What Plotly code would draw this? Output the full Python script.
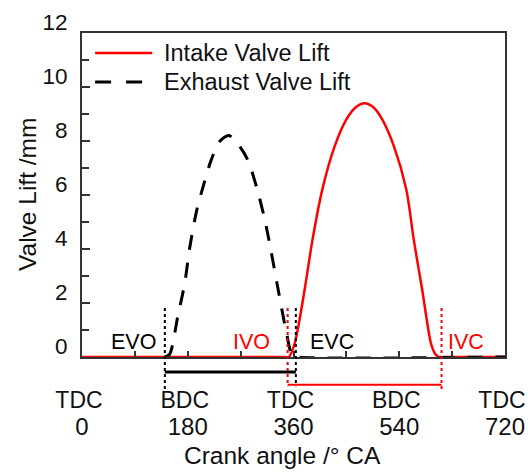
import plotly.graph_objects as go

# ---- data ----
intake_angle = [0, 345, 352, 362, 379, 392, 409, 430, 450, 466, 481, 496, 511, 531, 552, 565, 579, 594, 601, 607, 615, 720]
intake_lift = [0, 0, 0, 0.5, 2.5, 4.3, 6.2, 7.8, 8.8, 9.25, 9.4, 9.25, 8.8, 7.8, 6.2, 4.3, 2.5, 0.5, 0.12, 0, 0, 0]

exhaust_angle = [141, 149, 163, 175, 183, 195, 206, 220, 235, 250, 265, 282, 297, 311, 322, 333, 348, 358, 366, 720]
exhaust_lift = [0, 0.1, 1.5, 2.75, 4.0, 5.4, 6.3, 7.3, 8.0, 8.2, 7.9, 7.3, 6.3, 5.1, 3.9, 2.6, 0.9, 0.05, 0, 0]

series_names = ["Intake Valve Lift", "Exhaust Valve Lift"]

# valve events (deg CA)
EVO, IVO, EVC, IVC = 141, 350, 364, 612
event_names = ["EVO", "IVO", "EVC", "IVC"]
event_label_angle = [88, 288, 426, 653]
event_colors = ["black", "#ff0000", "black", "#ff0000"]

x_tickvals = [0, 180, 360, 540, 720]
x_ticknums = ["0", "180", "360", "540", "720"]
x_tickdc = ["TDC", "BDC", "TDC", "BDC", "TDC"]
y_tickvals = [0, 2, 4, 6, 8, 10, 12]

FONT = "Liberation Sans, Arial, sans-serif"
FS_X = 24
FS_DC = 23
FS_Y = 22.5
FS_EV = 21.5
FS_T = 24.5
FS_L = 23.5
RED = "#ff0000"
TXT = "#111"

fig = go.Figure()
fig.add_trace(go.Scatter(
    x=intake_angle, y=intake_lift, mode="lines", name=series_names[0],
    line=dict(color=RED, width=2.5, shape="spline", smoothing=0.8),
))
fig.add_trace(go.Scatter(
    x=exhaust_angle, y=exhaust_lift, mode="lines", name=series_names[1],
    line=dict(color="black", width=3, dash="15px,13px", shape="spline", smoothing=0.8),
))
# empty trace that carries the TDC/BDC label axis
fig.add_trace(go.Scatter(x=x_tickvals, y=[None] * len(x_tickvals), xaxis="x2", mode="lines",
                         showlegend=False, hoverinfo="skip"))

# dotted event markers (extend below the axis)
def vdot(x, y0, y1, color):
    fig.add_shape(type="line", xref="x", yref="paper", x0=x, x1=x, y0=y0, y1=y1,
                  line=dict(color=color, width=2, dash="dot"))

vdot(EVO, 0.151, -0.105, "black")
vdot(EVC, 0.151, -0.09, "black")
vdot(IVO, 0.151, -0.09, RED)
vdot(IVC, 0.151, -0.105, RED)

# open-duration bars
fig.add_shape(type="line", xref="x", yref="paper", x0=EVO, x1=EVC, y0=-0.046, y1=-0.046,
              line=dict(color="black", width=3))
fig.add_shape(type="line", xref="x", yref="paper", x0=IVO, x1=IVC, y0=-0.086, y1=-0.086,
              line=dict(color=RED, width=2))

for name, ang, col in zip(event_names, event_label_angle, event_colors):
    fig.add_annotation(x=ang, y=0.56, xref="x", yref="y", text=name, showarrow=False,
                       font=dict(family=FONT, size=FS_EV, color=col), xanchor="center", yanchor="middle")

# legend drawn in the top-left corner (long line samples as in the reference)
legend_rows_y = [0.938, 0.849]
legend_styles = [dict(color=RED, width=2.5), dict(color="black", width=3, dash="16px,15px")]
for nm, ly, st in zip(series_names, legend_rows_y, legend_styles):
    fig.add_shape(type="line", xref="paper", yref="paper", x0=0.031, x1=0.166, y0=ly, y1=ly, line=st)
    fig.add_annotation(x=0.19, y=ly, xref="paper", yref="paper", text=nm, showarrow=False,
                       font=dict(family=FONT, size=FS_L, color=TXT), xanchor="left", yanchor="middle")

fig.add_annotation(x=(282 - 82) / 423, y=-0.305, xref="paper", yref="paper",
                   text="Crank angle /° CA", showarrow=False,
                   font=dict(family=FONT, size=FS_T, color=TXT), xanchor="center", yanchor="middle")
fig.add_annotation(x=-0.13, y=0.5, xref="paper", yref="paper", textangle=-90,
                   text="Valve Lift /mm", showarrow=False,
                   font=dict(family=FONT, size=FS_T, color=TXT), xanchor="center", yanchor="middle")

fig.update_layout(
    width=528, height=474,
    margin=dict(l=82, r=23, t=33, b=117, autoexpand=False),
    paper_bgcolor="white", plot_bgcolor="white",
    font=dict(family=FONT, size=FS_X, color=TXT),
    showlegend=False,
    xaxis=dict(range=[0, 720], tickvals=x_tickvals, ticktext=x_ticknums, automargin=False,
               ticklabeloverflow="allow",
               ticks="inside", ticklen=6, tickcolor="#333", tickwidth=1.5,
               minor=dict(dtick=90, ticks="inside", ticklen=6, tickcolor="#333", tickwidth=1.5),
               showline=True, linecolor="#333", linewidth=2, mirror=True,
               showgrid=False, zeroline=False, ticklabelstandoff=47,
               tickfont=dict(family=FONT, size=FS_X, color=TXT)),
    xaxis2=dict(matches="x", overlaying="x", side="bottom", anchor="y", automargin=False,
                ticklabeloverflow="allow", ticklabelshift=-3,
                tickvals=x_tickvals, ticktext=x_tickdc, ticks="", showline=False,
                showgrid=False, zeroline=False, ticklabelstandoff=27,
                tickfont=dict(family=FONT, size=FS_DC, color=TXT)),
    yaxis=dict(range=[0, 12], tickvals=y_tickvals, automargin=False,
               ticks="inside", ticklen=8, tickcolor="#333", tickwidth=1.5,
               minor=dict(dtick=1, ticks="inside", ticklen=7, tickcolor="#333", tickwidth=1.5),
               showline=True, linecolor="#333", linewidth=2, mirror=True,
               showgrid=False, zeroline=False, ticklabelstandoff=8, ticklabelshift=-11,
               tickfont=dict(family=FONT, size=FS_Y, color=TXT)),
)

fig.write_html("out.html")
